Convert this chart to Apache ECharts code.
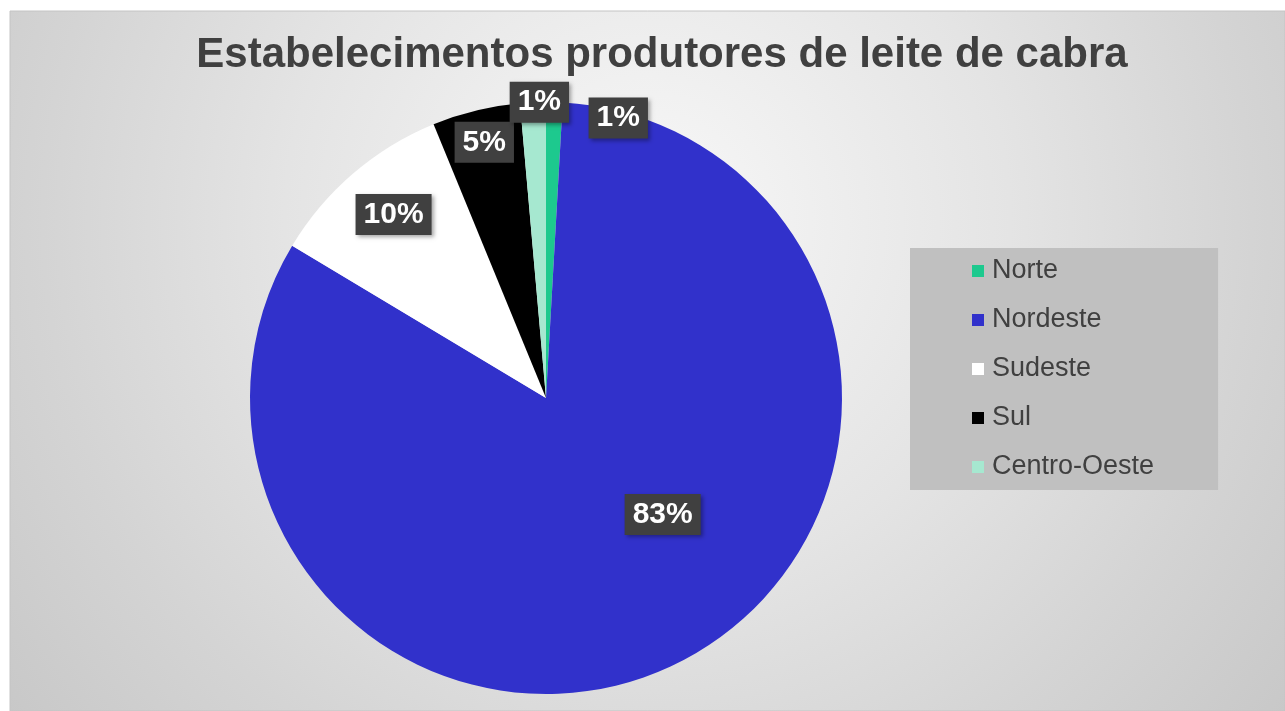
<!DOCTYPE html>
<html>
<head>
<meta charset="utf-8">
<script src="https://cdn.jsdelivr.net/npm/echarts@6/dist/echarts.min.js"></script>
<style>
html,body{margin:0;padding:0;background:#ffffff;}
#chart{width:1285px;height:711px;}
</style>
</head>
<body>
<div id="chart"></div>
<script>
var titleText = 'Estabelecimentos produtores de leite de cabra';
var categories = ['Norte', 'Nordeste', 'Sudeste', 'Sul', 'Centro-Oeste'];
var values = [0.9, 82.7, 10.2, 4.8, 1.4];
var colors = ['#1DC98E', '#3131CB', '#FFFFFF', '#000000', '#A6E8D0'];
var labelShift = [[68, -129], [46, -17], [-54, -69], [-26, -109], [0, -145]];

var chart = echarts.init(document.getElementById('chart'));
var pieData = categories.map(function (c, i) {
  return { name: c, value: values[i], itemStyle: { color: colors[i] } };
});
chart.setOption({
  animation: false,
  graphic: [{
    type: 'rect', z: -10, silent: true,
    shape: { x: 10, y: 11, width: 1275, height: 700 },
    style: {
      fill: { type: 'radial', x: 0.5, y: 0.3, r: 1.15,
        colorStops: [{ offset: 0, color: '#f8f8f8' }, { offset: 0.45, color: '#e4e4e4' }, { offset: 0.75, color: '#d4d4d4' }, { offset: 1, color: '#c8c8c8' }] },
      stroke: '#c4c4c4', lineWidth: 1
    }
  }],
  title: {
    text: titleText,
    left: 657, top: 29, textAlign: 'center',
    textStyle: { fontFamily: 'Liberation Sans, Arial, sans-serif', fontSize: 42, fontWeight: 'bold', color: '#404040' }
  },
  legend: {
    orient: 'vertical',
    left: 910, top: 248,
    padding: [8, 64, 8, 62],
    backgroundColor: '#c0c0c0',
    itemWidth: 12, itemHeight: 12, itemGap: 19,
    icon: 'rect',
    data: categories,
    textStyle: { fontFamily: 'Liberation Sans, Arial, sans-serif', fontSize: 27, color: '#404040', lineHeight: 30, padding: [0, 0, 0, 3] }
  },
  series: [{
    type: 'pie',
    center: [546, 398],
    radius: 296,
    startAngle: 90,
    clockwise: true,
    data: pieData,
    itemStyle: { borderWidth: 0 },
    label: {
      show: true,
      position: 'inside',
      formatter: function (p) { return Math.round(p.percent) + '%'; },
      fontFamily: 'Liberation Sans, Arial, sans-serif',
      fontSize: 30, fontWeight: 'bold', color: '#ffffff',
      backgroundColor: '#404040',
      padding: [6, 8, 5, 8],
      shadowBlur: 4, shadowColor: 'rgba(0,0,0,0.35)', shadowOffsetX: 2, shadowOffsetY: 2
    },
    labelLine: { show: false },
    labelLayout: function (p) {
      var s = labelShift[p.dataIndex];
      return { dx: s[0], dy: s[1] };
    },
    emphasis: { disabled: true }
  }]
});
</script>
</body>
</html>
